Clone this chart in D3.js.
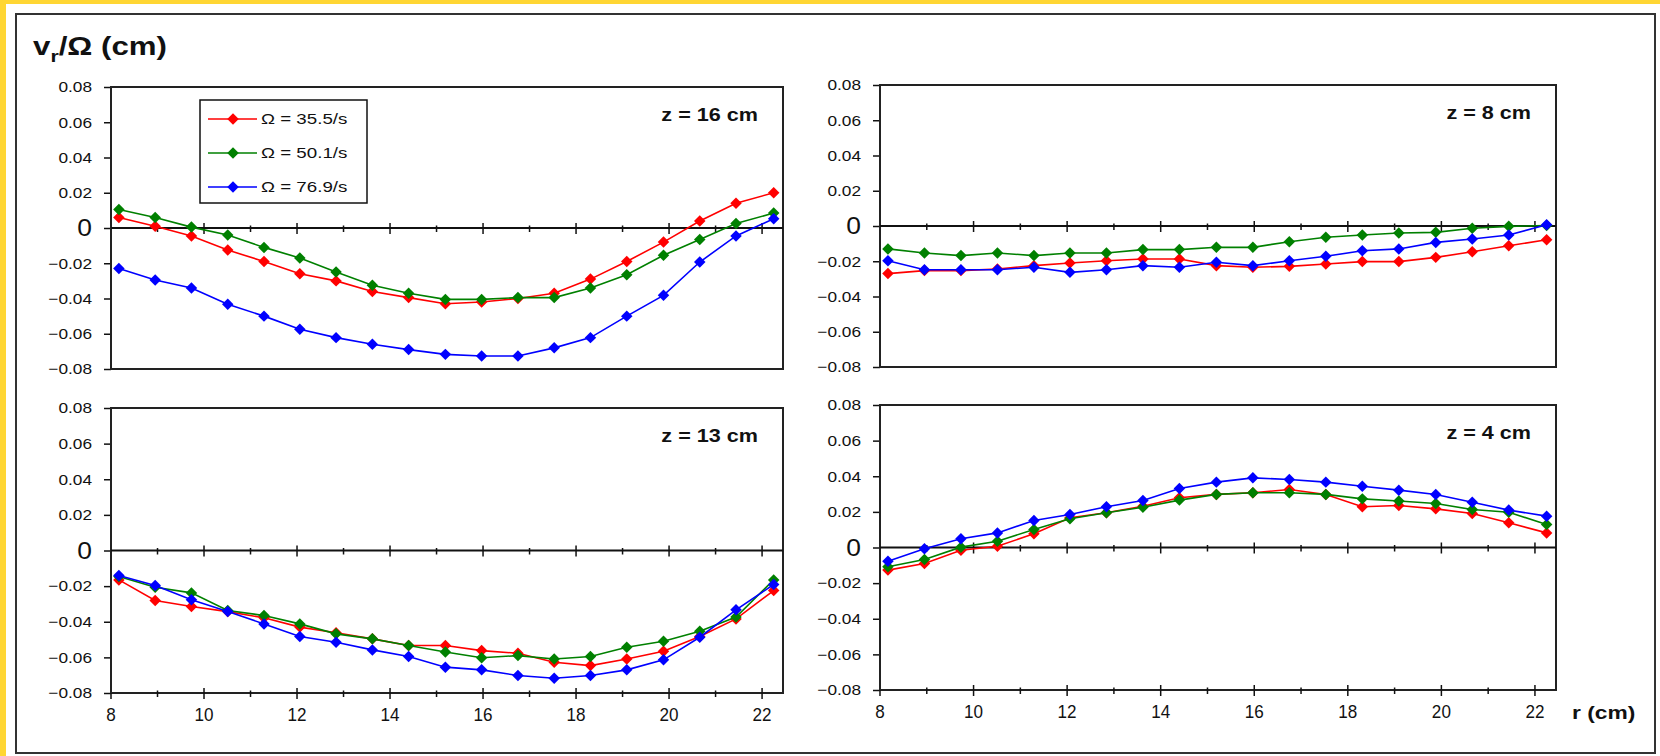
<!DOCTYPE html>
<html>
<head>
<meta charset="UTF-8">
<script src="https://cdn.jsdelivr.net/npm/d3@7"></script>
<style>
  body { margin: 0; background: #fff; }
  text { font-family: "Liberation Sans", Arial, sans-serif; fill: #111; }
</style>
</head>
<body>
<script>
// radial positions (cm), same for every panel
const rValues = [8.17, 8.95, 9.73, 10.51, 11.29, 12.06, 12.84, 13.62, 14.40, 15.19,
                 15.97, 16.75, 17.53, 18.31, 19.09, 19.88, 20.66, 21.44, 22.25];

// v_r / Omega (cm)
const z16_355 = [0.006, 0.001, -0.0045, -0.0125, -0.019, -0.026, -0.030, -0.036, -0.0395, -0.043,
                 -0.042, -0.040, -0.037, -0.029, -0.019, -0.008, 0.004, 0.014, 0.020];
const z16_501 = [0.0105, 0.006, 0.0005, -0.004, -0.011, -0.017, -0.025, -0.0325, -0.037, -0.0405,
                 -0.0405, -0.0395, -0.0395, -0.034, -0.0265, -0.0155, -0.0065, 0.0025, 0.0085];
const z16_769 = [-0.023, -0.0295, -0.034, -0.0433, -0.05, -0.0575, -0.0622, -0.066, -0.069, -0.0717,
                 -0.0726, -0.0726, -0.068, -0.0622, -0.05, -0.0382, -0.0193, -0.0045, 0.0053];

const z8_355 = [-0.027, -0.0253, -0.0253, -0.0244, -0.0225, -0.021, -0.0197, -0.0187, -0.0187, -0.0225,
                -0.0234, -0.0229, -0.0216, -0.0202, -0.0202, -0.0178, -0.0146, -0.0112, -0.0078];
const z8_501 = [-0.013, -0.0153, -0.0168, -0.0153, -0.0168, -0.0153, -0.0153, -0.0134, -0.0134, -0.0121,
                -0.0121, -0.0089, -0.0064, -0.0051, -0.004, -0.0036, -0.0013, -0.0002, 0.0003];
const z8_769 = [-0.0197, -0.0248, -0.0248, -0.0248, -0.0234, -0.0263, -0.0248, -0.0225, -0.0234, -0.0206,
                -0.0225, -0.0197, -0.0172, -0.014, -0.013, -0.0093, -0.0074, -0.0051, 0.0007];

const z13_355 = [-0.0165, -0.0281, -0.0314, -0.0343, -0.0378, -0.043, -0.0462, -0.0496, -0.0533, -0.0533,
                 -0.0562, -0.0577, -0.0627, -0.0646, -0.0609, -0.0566, -0.0483, -0.0384, -0.0225];
const z13_501 = [-0.0146, -0.0206, -0.0238, -0.0337, -0.0365, -0.0412, -0.0468, -0.0496, -0.0533, -0.057,
                 -0.0602, -0.059, -0.0609, -0.0595, -0.0543, -0.0509, -0.0453, -0.0374, -0.0165];
const z13_769 = [-0.014, -0.0197, -0.0277, -0.0343, -0.0412, -0.0483, -0.0515, -0.0558, -0.0595, -0.0655,
                 -0.067, -0.0702, -0.0717, -0.0702, -0.067, -0.0614, -0.0487, -0.0333, -0.0191];

const z4_355 = [-0.0127, -0.009, -0.0015, 0.0007, 0.0077, 0.0167, 0.0195, 0.0232, 0.0279, 0.0298,
                0.0307, 0.0326, 0.0298, 0.0229, 0.0236, 0.0217, 0.0191, 0.0139, 0.0082];
const z4_501 = [-0.0108, -0.0067, 0.0002, 0.0035, 0.0101, 0.0161, 0.0195, 0.0226, 0.0266, 0.0298,
                0.0307, 0.0307, 0.0298, 0.0273, 0.0261, 0.0247, 0.0213, 0.0198, 0.0129];
const z4_769 = [-0.0077, -0.0007, 0.0049, 0.0082, 0.0152, 0.0185, 0.0229, 0.0264, 0.0331, 0.0367,
                0.0391, 0.0382, 0.0367, 0.0344, 0.0322, 0.0298, 0.0254, 0.021, 0.0176];

const seriesNames = ["\u03A9 = 35.5/s", "\u03A9 = 50.1/s", "\u03A9 = 76.9/s"];
const seriesColors = ["#ff0000", "#008000", "#0000ff"];
const yTicks = [-0.08, -0.06, -0.04, -0.02, 0, 0.02, 0.04, 0.06, 0.08];
const xMajor = [8, 10, 12, 14, 16, 18, 20, 22];
const xMinor = [9, 11, 13, 15, 17, 19, 21];

const W = 1660, H = 756;
const SX = 1.2; // the source text is stretched sideways

const svg = d3.select("body").append("svg").attr("width", W).attr("height", H);

// yellow frame + black border
svg.append("rect").attr("x", 0).attr("y", 0).attr("width", W).attr("height", H).attr("fill", "#fff");
svg.append("rect").attr("x", 0).attr("y", 0).attr("width", 6).attr("height", H).attr("fill", "#ffd633");
svg.append("rect").attr("x", 0).attr("y", 0).attr("width", W).attr("height", 4).attr("fill", "#ffd633");
svg.append("rect").attr("x", 16).attr("y", 14).attr("width", 1639).attr("height", 739)
  .attr("fill", "none").attr("stroke", "#333").attr("stroke-width", 2);

function txt(g, x, y, s, o) {
  o = o || {};
  return g.append("text")
    .attr("transform", `translate(${x},${y}) scale(${o.sx || SX},1)`)
    .attr("text-anchor", o.anchor || "start")
    .attr("dy", o.dy || "0.35em")
    .style("font-size", (o.size || 14) + "px")
    .style("font-weight", o.bold ? "bold" : "normal")
    .text(s);
}

// title
const title = svg.append("text").attr("transform", "translate(33,55) scale(1.25,1)")
  .style("font-size", "25px").style("font-weight", "bold");
title.append("tspan").text("v");
title.append("tspan").attr("dy", 7).style("font-size", "17px").text("r");
title.append("tspan").attr("dy", -7).text("/\u03A9 (cm)");

const panels = [
  {label: "z = 16 cm", data: [z16_355, z16_501, z16_769], x0: 111, x1: 783, y0: 87, y1: 369, xlab: false, legend: true},
  {label: "z = 8 cm",  data: [z8_355, z8_501, z8_769],    x0: 880, x1: 1556, y0: 85, y1: 367, xlab: false},
  {label: "z = 13 cm", data: [z13_355, z13_501, z13_769], x0: 111, x1: 783, y0: 408, y1: 693, xlab: true},
  {label: "z = 4 cm",  data: [z4_355, z4_501, z4_769],    x0: 880, x1: 1556, y0: 405, y1: 690, xlab: true}
];

const diamond = d3.symbol().type(d3.symbolSquare).size(66);

panels.forEach(p => {
  const x = d3.scaleLinear().domain([8, 22.45]).range([p.x0, p.x1]);
  const y = d3.scaleLinear().domain([-0.08, 0.08]).range([p.y1, p.y0]);
  const g = svg.append("g");

  // y axis ticks
  const ya = g.append("g").attr("transform", `translate(${p.x0},0)`)
    .call(d3.axisLeft(y).tickValues(yTicks).tickSize(7).tickFormat(""));
  ya.select(".domain").remove();
  ya.selectAll("line").attr("stroke", "#111").attr("stroke-width", 1.5);
  yTicks.forEach(v => {
    if (v === 0) txt(g, p.x0 - 19, y(v), "0", {anchor: "end", size: 24, sx: 1.1});
    else txt(g, p.x0 - 19, y(v), d3.format(".2f")(v), {anchor: "end", size: 15, sx: 1.15});
  });

  // plot frame
  g.append("rect").attr("x", p.x0).attr("y", p.y0).attr("width", p.x1 - p.x0).attr("height", p.y1 - p.y0)
    .attr("fill", "none").attr("stroke", "#222").attr("stroke-width", 2);

  // zero line with cross ticks
  g.append("line").attr("x1", p.x0).attr("x2", p.x1).attr("y1", y(0)).attr("y2", y(0))
    .attr("stroke", "#111").attr("stroke-width", 2);
  const tickRows = [y(0)];
  if (p.xlab) tickRows.push(p.y1);
  tickRows.forEach(ty => {
    g.selectAll(null).data(xMajor.slice(1)).enter().append("line")
      .attr("x1", d => x(d)).attr("x2", d => x(d)).attr("y1", ty - 5).attr("y2", ty + 6)
      .attr("stroke", "#111").attr("stroke-width", 1.5);
    g.selectAll(null).data(xMinor).enter().append("line")
      .attr("x1", d => x(d)).attr("x2", d => x(d)).attr("y1", ty - 2.5).attr("y2", ty + 4)
      .attr("stroke", "#111").attr("stroke-width", 1.5);
  });
  if (p.xlab) {
    g.append("line").attr("x1", p.x0).attr("x2", p.x0).attr("y1", p.y1).attr("y2", p.y1 + 6)
      .attr("stroke", "#111").attr("stroke-width", 1.5);
    xMajor.forEach(v => txt(g, x(v), p.y1 + 22, String(v), {anchor: "middle", size: 18, sx: 0.95}));
  }

  // series
  const line = d3.line().x((d, i) => x(rValues[i])).y(d => y(d));
  p.data.forEach((vals, k) => {
    g.append("path").datum(vals).attr("d", line).attr("fill", "none")
      .attr("stroke", seriesColors[k]).attr("stroke-width", 1.6);
    g.selectAll(null).data(vals).enter().append("path")
      .attr("d", diamond)
      .attr("transform", (d, i) => `translate(${x(rValues[i])},${y(d)}) rotate(45)`)
      .attr("fill", seriesColors[k]);
  });

  txt(g, p.x1 - 25, p.y0 + 28, p.label, {anchor: "end", size: 18, bold: true, sx: 1.2});

  if (p.legend) {
    const lg = g.append("g");
    lg.append("rect").attr("x", 200).attr("y", 100).attr("width", 167).attr("height", 103)
      .attr("fill", "#fff").attr("stroke", "#111").attr("stroke-width", 1.5);
    seriesNames.forEach((name, k) => {
      const ly = 119 + k * 34;
      lg.append("line").attr("x1", 208).attr("x2", 257).attr("y1", ly).attr("y2", ly)
        .attr("stroke", seriesColors[k]).attr("stroke-width", 1.6);
      lg.append("path").attr("d", diamond).attr("transform", `translate(233,${ly}) rotate(45)`)
        .attr("fill", seriesColors[k]);
      txt(lg, 261, ly, name, {size: 15, sx: 1.25});
    });
  }
});

txt(svg, 1572, 712, "r (cm)", {size: 19, bold: true, sx: 1.2});
</script>
</body>
</html>
